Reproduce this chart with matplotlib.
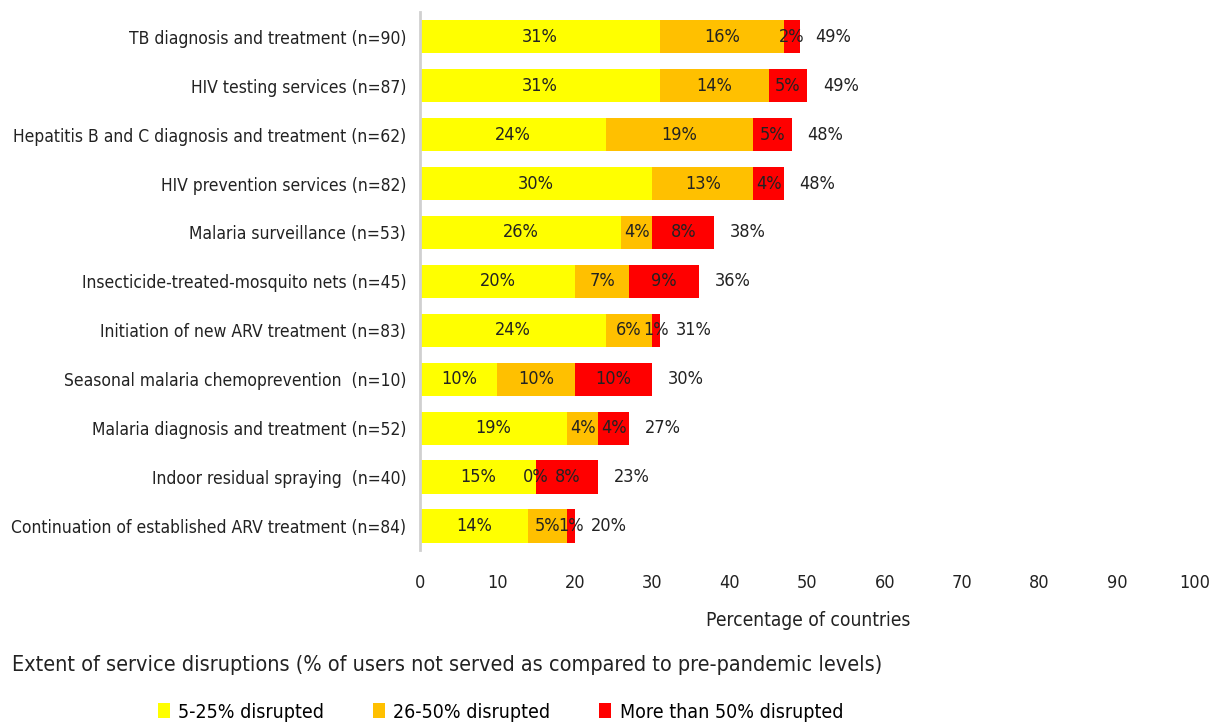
import matplotlib.pyplot as plt
import numpy as np
from matplotlib import font_manager

services = ["TB diagnosis and treatment (n=90)",
            "HIV testing services (n=87)",
            "Hepatitis B and C diagnosis and treatment (n=62)",
            "HIV prevention services (n=82)",
            "Malaria surveillance (n=53)",
            "Insecticide-treated-mosquito nets (n=45)",
            "Initiation of new ARV treatment (n=83)",
            "Seasonal malaria chemoprevention  (n=10)",
            "Malaria diagnosis and treatment (n=52)",
            "Indoor residual spraying  (n=40)",
            "Continuation of established ARV treatment (n=84)"]
low = [31, 31, 24, 30, 26, 20, 24, 10, 19, 15, 14]
mid = [16, 14, 19, 13, 4, 7, 6, 10, 4, 0, 5]
high = [2, 5, 5, 4, 8, 9, 1, 10, 4, 8, 1]
totals = [49, 49, 48, 48, 38, 36, 31, 30, 27, 23, 20]
series_names = ["5-25% disrupted", "26-50% disrupted", "More than 50% disrupted"]
colors = ["#FFFF00", "#FFC000", "#FF0000"]

names = {f.name for f in font_manager.fontManager.ttflist}
if "Liberation Sans Narrow" in names:
    plt.rcParams['font.family'] = ['Liberation Sans Narrow', 'DejaVu Sans']
else:
    plt.rcParams['font.family'] = ['DejaVu Sans']
    plt.rcParams['font.stretch'] = 'condensed'
plt.rcParams['font.size'] = 12.5

fig = plt.figure(figsize=(12.14, 7.25), dpi=100)
ax = fig.add_axes([0.346, 0.2407, 0.638, 0.7423])

y = np.arange(len(services))
left = np.zeros(len(services))
for vals, c, name in zip([low, mid, high], colors, series_names):
    vals = np.array(vals, dtype=float)
    ax.barh(y, vals, left=left, height=0.68, color=c, label=name)
    for yi, l, v in zip(y, left, vals):
        ax.text(l + v / 2, yi, f"{int(v)}%", ha='center', va='center', color='#222222', fontsize=13)
    left += vals

for yi, end, t in zip(y, left, totals):
    ax.text(end + 2, yi, f"{t}%", ha='left', va='center', color='#222222', fontsize=13)

ax.set_xlim(0, 100)
ax.set_ylim(len(services) - 0.5, -0.5)
ax.set_yticks(y)
ax.set_yticklabels(services, color='#222222')
ax.set_xticks(np.arange(0, 101, 10))
ax.tick_params(length=0, pad=10)
ax.tick_params(axis='x', pad=17, colors='#222222', labelsize=13)
for s in ['top', 'right', 'bottom']:
    ax.spines[s].set_visible(False)
ax.spines['left'].set_color('#d0d0d0')
ax.spines['left'].set_linewidth(2)

fig.text(808 / 1214, 1 - 621 / 725, "Percentage of countries", ha='center', va='center',
         color='#222222', fontsize=13.8)
fig.text(12 / 1214, 1 - 665 / 725,
         "Extent of service disruptions (% of users not served as compared to pre-pandemic levels)",
         ha='left', va='center', color='#222222', fontsize=15.5)

fig.legend(loc='center left', bbox_to_anchor=(158 / 1214, 1 - 712 / 725), ncol=3, frameon=False,
           fontsize=14, handlelength=0.6, handleheight=0.8, handletextpad=0.45, columnspacing=2.5,
           borderaxespad=0, borderpad=0)

fig.savefig("out.png", dpi=100)
